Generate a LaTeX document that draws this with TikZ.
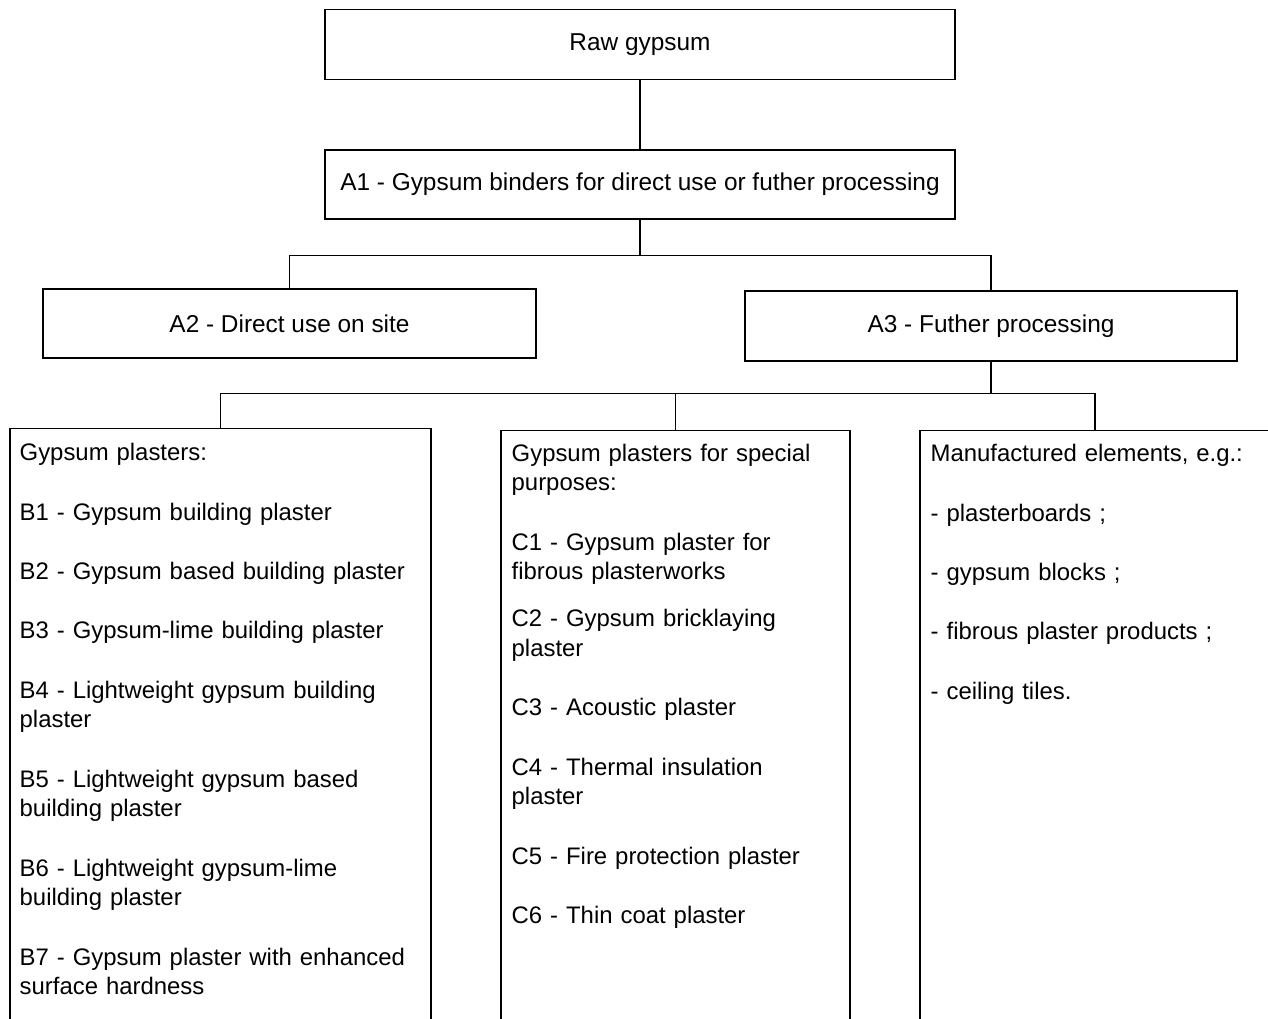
\documentclass[tikz,border=0pt]{standalone}
\usepackage{fontspec}
\setmainfont{Liberation Sans}
\begin{document}
\begin{tikzpicture}[x=1pt,y=-1pt,line width=1.4pt,
   stage/.style={draw,rectangle,inner sep=0pt,font=\fontsize{24.4}{29.7}\selectfont},
   panel/.style={draw,rectangle,inner sep=0pt,minimum height=640pt},
   itemtext/.style={anchor=base west,inner sep=0pt,text width=400pt,align=left,
      font=\fontsize{23.9}{29.67}\selectfont}]
   \useasboundingbox (0,0) rectangle (1268,1019);
   \clip (0,0) rectangle (1268,1019);

   \node[stage,minimum width=630pt,minimum height=70pt] (raw) at (640,44.5) {Raw gypsum};
   \node[stage,minimum width=630pt,minimum height=69pt] (a1) at (640,184.5)
      {A1 - Gypsum binders for direct use or futher processing};
   \node[stage,minimum width=493pt,minimum height=69pt] (a2) at (289.5,323.5) {A2 - Direct use on site};
   \node[stage,minimum width=492pt,minimum height=70pt] (a3) at (991,326) {A3 - Futher processing};

   \node[panel,minimum width=421pt,anchor=north] (boxb) at (220.5,428) {};
   \node[panel,minimum width=349pt,anchor=north] (boxc) at (675.5,430) {};
   \node[panel,minimum width=350pt,anchor=north] (boxd) at (1095,430) {};

   \node[itemtext] (listb) at (19,460.7) {Gypsum plasters:\\[\baselineskip]
      B1 - Gypsum building plaster\\[\baselineskip]
      B2 - Gypsum based building plaster\\[\baselineskip]
      B3 - Gypsum-lime building plaster\\[\baselineskip]
      B4 - Lightweight gypsum building\\ plaster\\[\baselineskip]
      B5 - Lightweight gypsum based\\ building plaster\\[\baselineskip]
      B6 - Lightweight gypsum-lime\\ building plaster\\[\baselineskip]
      B7 - Gypsum plaster with enhanced\\ surface hardness};
   \node[itemtext] (listc) at (511,461.2) {Gypsum plasters for special\\ purposes:\\[\baselineskip]
      C1 - Gypsum plaster for\\ fibrous plasterworks\\[17.3pt]
      C2 - Gypsum bricklaying\\ plaster\\[\baselineskip]
      C3 - Acoustic plaster\\[\baselineskip]
      C4 - Thermal insulation\\ plaster\\[\baselineskip]
      C5 - Fire protection plaster\\[\baselineskip]
      C6 - Thin coat plaster};
   \node[itemtext] (listd) at (930,461.7) {Manufactured elements, e.g.:\\[\baselineskip]
      - plasterboards ;\\[\baselineskip]
      - gypsum blocks ;\\[\baselineskip]
      - fibrous plaster products ;\\[\baselineskip]
      - ceiling tiles.};

   \draw (raw.south) -- (a1.north);
   \draw (a1.south) -- ++(0,36) -| (a2.north);
   \draw (a1.south) -- ++(0,36) -| (a3.north);
   \draw (a3.south) -- ++(0,32) -| (boxb.north);
   \draw (a3.south) -- ++(0,32) -| (boxc.north);
   \draw (a3.south) -- ++(0,32) -| (boxd.north);
\end{tikzpicture}
\end{document}
